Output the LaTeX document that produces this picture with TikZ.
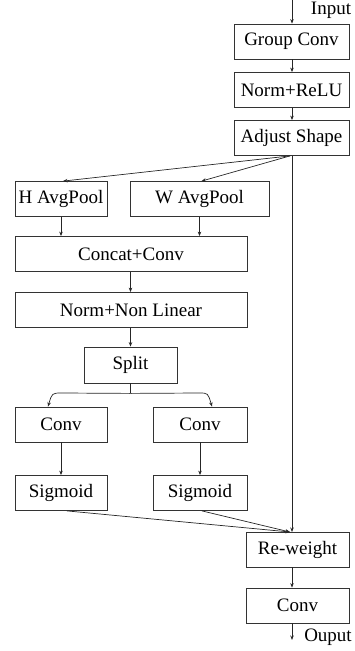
\documentclass[tikz,border=0pt]{standalone}
\usepackage{fontspec}
\setmainfont{Liberation Serif}
\usetikzlibrary{arrows.meta}
\begin{document}
\begin{tikzpicture}[x=1pt,y=-1pt,
  box/.style={draw=black!80,line width=0.8pt,inner sep=0pt,
    font=\fontsize{19}{22}\selectfont,minimum height=35pt},
  lbl/.style={inner sep=0pt,font=\fontsize{19}{22}\selectfont},
  arr/.style={draw=black!85,line width=0.7pt,-{Stealth[length=4.5pt,width=3.5pt]}},
  ln/.style={draw=black!85,line width=0.7pt}]
\useasboundingbox (0,0) rectangle (355,651);

% main column
\node[box,minimum width=115pt] (gc) at (291.5,41.5) {Group Conv};
\node[box,minimum width=115pt] (nr) at (291.5,90) {Norm+ReLU};
\node[box,minimum width=115pt] (as) at (291.5,138) {Adjust Shape};

% attention branch
\node[box,minimum width=92pt] (hp) at (61,199) {H AvgPool};
\node[box,minimum width=139pt] (wp) at (199.5,199) {W AvgPool};
\node[box,minimum width=232pt] (cc) at (131,254) {Concat+Conv};
\node[box,minimum width=232pt] (nl) at (131,310) {Norm+Non Linear};
\node[box,minimum width=93pt,minimum height=36pt] (sp) at (130.5,365) {Split};
\node[box,minimum width=92pt] (cl) at (61,424.5) {Conv};
\node[box,minimum width=94pt] (cr) at (200,424.5) {Conv};
\node[box,minimum width=92pt] (sl) at (61,493) {Sigmoid};
\node[box,minimum width=94pt] (sr) at (200,493) {Sigmoid};

% output column
\node[box,minimum width=103pt] (rw) at (297.5,549.5) {Re-weight};
\node[box,minimum width=103pt] (cv) at (297.5,605.5) {Conv};

% free ends and labels
\coordinate (in) at (292,0);
\coordinate (out) at (292,640);
\coordinate (mg) at (292,532);
\node[lbl] (tin) at (331,10) {Input};
\node[lbl] (tout) at (328,637) {Ouput};

% connectors
\draw[arr] (in) -- (in |- gc.north);
\draw[arr] (gc.south -| in) -- (nr.north -| in);
\draw[arr] (nr.south -| in) -- (as.north -| in);
\draw[arr] ([xshift=-2pt]as.south -| in) -- ([xshift=2pt]hp.north);
\draw[arr] ([xshift=-2pt]as.south -| in) -- ([xshift=2pt]wp.north);
\draw[arr] (as.south -| in) -- (mg);
\draw[arr] (hp.south) -- (hp.south |- cc.north);
\draw[arr] (wp.south) -- (wp.south |- cc.north);
\draw[arr] (cc.south -| sp.south) -- (nl.north -| sp.south);
\draw[arr] (nl.south -| sp.south) -- (sp.north);
\draw[ln] (sp.south) -- ++(0,10) coordinate (sj);
\draw[arr] (sj) -- (62,393) .. controls (52,393) .. ([xshift=-13pt]cl.north);
\draw[arr] (sj) -- (199,393) .. controls (208,393) .. ([xshift=12pt]cr.north);
\draw[arr] (cl.south) -- (sl.north);
\draw[arr] (cr.south) -- (sr.north);
\draw[arr] ([xshift=6pt]sl.south) -- ([xshift=-2pt]mg);
\draw[arr] ([xshift=2pt]sr.south) -- ([xshift=-2pt]mg);
\draw[arr] (rw.south -| in) -- (cv.north -| in);
\draw[arr] (cv.south -| in) -- (out);
\end{tikzpicture}
\end{document}
